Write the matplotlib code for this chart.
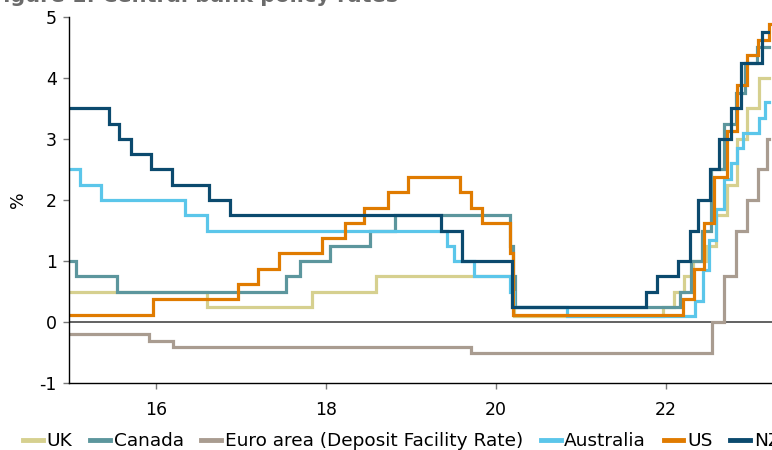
import matplotlib
matplotlib.use("Agg")
import matplotlib.pyplot as plt

# ---- data (decimal years since 2000, policy rate %) ----
uk_dates = [15.0, 16.60, 17.84, 18.59, 20.19, 20.21, 21.96, 22.09, 22.21, 22.32, 22.47, 22.59, 22.72, 22.84, 22.95, 23.09, 23.21]
uk_vals = [0.5, 0.25, 0.5, 0.75, 0.25, 0.1, 0.25, 0.5, 0.75, 1.0, 1.25, 1.75, 2.25, 3.0, 3.5, 4.0, 4.0]

ca_dates = [15.0, 15.06, 15.54, 17.53, 17.69, 18.05, 18.52, 18.81, 20.17, 20.20, 20.22, 22.16, 22.29, 22.42, 22.53, 22.68, 22.82, 22.93, 23.07, 23.21]
ca_vals = [1.0, 0.75, 0.5, 0.75, 1.0, 1.25, 1.5, 1.75, 1.25, 0.75, 0.25, 0.5, 1.0, 1.5, 2.5, 3.25, 3.75, 4.25, 4.5, 4.5]

ea_dates = [15.0, 15.92, 16.20, 19.71, 22.54, 22.68, 22.82, 22.95, 23.08, 23.19, 23.21]
ea_vals = [-0.2, -0.3, -0.4, -0.5, 0.0, 0.75, 1.5, 2.0, 2.5, 3.0, 3.0]

au_dates = [15.0, 15.11, 15.35, 16.34, 16.60, 19.42, 19.51, 19.74, 20.17, 20.21, 20.84, 22.34, 22.43, 22.51, 22.59, 22.68, 22.76, 22.84, 22.91, 23.09, 23.17, 23.21]
au_vals = [2.5, 2.25, 2.0, 1.75, 1.5, 1.25, 1.0, 0.75, 0.5, 0.25, 0.1, 0.35, 0.85, 1.35, 1.85, 2.35, 2.6, 2.85, 3.1, 3.35, 3.6, 3.6]

us_dates = [15.0, 15.96, 16.96, 17.20, 17.45, 17.95, 18.22, 18.45, 18.73, 18.97, 19.58, 19.71, 19.83, 20.17, 20.20, 22.20, 22.33, 22.45, 22.56, 22.72, 22.83, 22.95, 23.08, 23.21, 23.27]
us_vals = [0.125, 0.375, 0.625, 0.875, 1.125, 1.375, 1.625, 1.875, 2.125, 2.375, 2.125, 1.875, 1.625, 1.125, 0.125, 0.375, 0.875, 1.625, 2.375, 3.125, 3.875, 4.375, 4.625, 4.875, 4.875]

nz_dates = [15.0, 15.45, 15.57, 15.70, 15.94, 16.19, 16.62, 16.87, 19.35, 19.60, 20.19, 21.76, 21.89, 22.14, 22.28, 22.38, 22.52, 22.62, 22.76, 22.88, 23.13, 23.20]
nz_vals = [3.5, 3.25, 3.0, 2.75, 2.5, 2.25, 2.0, 1.75, 1.5, 1.0, 0.25, 0.5, 0.75, 1.0, 1.5, 2.0, 2.5, 3.0, 3.5, 4.25, 4.75, 4.75]

labels = ["UK", "Canada", "Euro area (Deposit Facility Rate)", "Australia", "US", "NZ"]
colors = ["#d6d08f", "#5c969d", "#a99c90", "#5bc6ea", "#e07b00", "#0b4a6e"]
series = [(uk_dates, uk_vals), (ca_dates, ca_vals), (ea_dates, ea_vals),
          (au_dates, au_vals), (us_dates, us_vals), (nz_dates, nz_vals)]

x_ticks = [16, 18, 20, 22]
y_ticks = [-1, 0, 1, 2, 3, 4, 5]

plt.rcParams['font.family'] = ['DejaVu Sans']
W, H = 772, 450
fig = plt.figure(figsize=(W / 100, H / 100), dpi=100)

left_px, right_px, top_px, bot_px = 68.5, 772, 16.7, 383.3
ax = fig.add_axes([left_px / W, 1 - bot_px / H, (right_px - left_px) / W, (bot_px - top_px) / H])

px_per_unit = 85.0
x0 = 15 - (71 - left_px) / px_per_unit
x1 = 15 + (right_px - 71) / px_per_unit
ax.set_xlim(x0, x1)
ax.set_ylim(-1, 5)

ax.axhline(0, color="#555555", lw=1.3, zorder=1)

handles = []
for (d, v), lab, c in zip(series, labels, colors):
    h, = ax.plot(d, v, drawstyle="steps-post", color=c, lw=2.3, label=lab,
                 solid_joinstyle="miter", zorder=2)
    handles.append(h)

for s in ["top", "right"]:
    ax.spines[s].set_visible(False)
ax.spines["left"].set_color("black")
ax.spines["bottom"].set_color("black")
ax.spines["left"].set_linewidth(1.0)
ax.spines["bottom"].set_linewidth(1.0)

ax.set_xticks(x_ticks)
ax.set_xticklabels([str(t) for t in x_ticks])
ax.set_yticks(y_ticks)
ax.set_yticklabels([str(t) for t in y_ticks])
ax.tick_params(axis="both", labelsize=12.5, colors="#777777", labelcolor="black",
               length=4.5, width=1.0, direction="out")
ax.tick_params(axis="x", pad=8)
ax.tick_params(axis="y", pad=4)

ax.set_ylabel("%", fontsize=12.5, labelpad=9)

fig.text(398 / W, 1 - 2.5 / H, "Figure 1: Central bank policy rates", ha="right",
         va="baseline", fontsize=15, weight="bold", color="#6b6b6b")

leg = fig.legend(handles=handles, labels=labels, loc="center left",
                 bbox_to_anchor=(23 / W, 1 - 441 / H), ncol=6, frameon=False,
                 fontsize=13.3, handlelength=1.08, handletextpad=0.2,
                 columnspacing=0.95, borderpad=0, borderaxespad=0)
for lh in leg.get_lines():
    lh.set_linewidth(3.5)

fig.savefig("out.png", dpi=100)
